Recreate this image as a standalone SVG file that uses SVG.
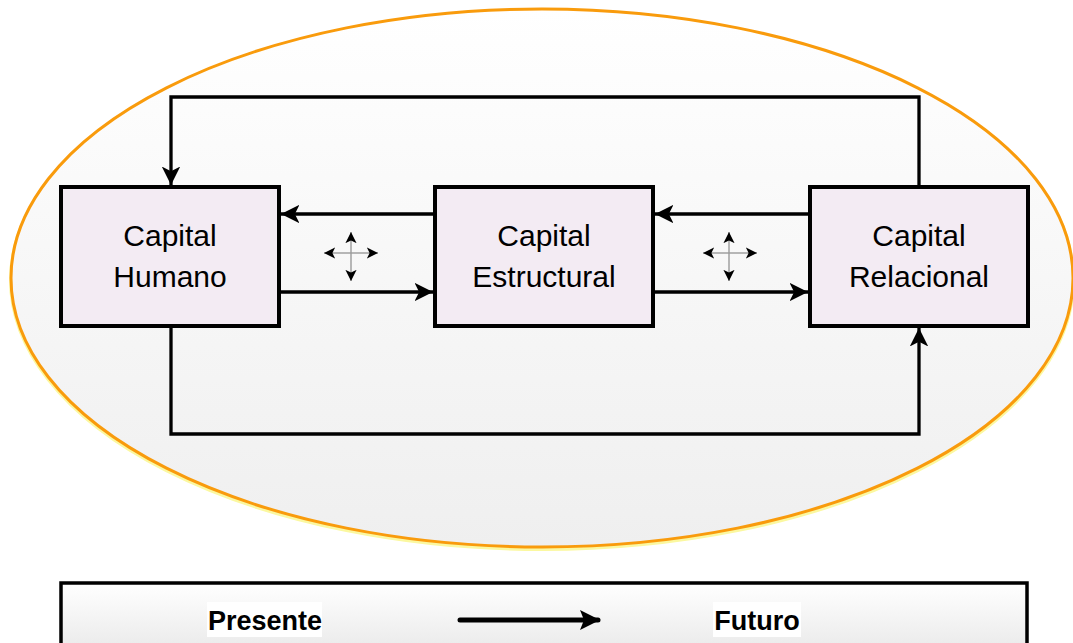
<svg xmlns="http://www.w3.org/2000/svg" width="1073" height="643" viewBox="0 0 1073 643">
  <defs>
    <linearGradient id="ovalFill" x1="0" y1="0" x2="0" y2="1">
      <stop offset="0" stop-color="#ffffff"/>
      <stop offset="1" stop-color="#efefef"/>
    </linearGradient>
    <linearGradient id="barFill" x1="0" y1="0" x2="0" y2="1">
      <stop offset="0" stop-color="#ffffff"/>
      <stop offset="1" stop-color="#e6e6e6"/>
    </linearGradient>
    <marker id="head" viewBox="0 0 10 10" refX="10" refY="5" markerWidth="5.6" markerHeight="5.6" markerUnits="strokeWidth" orient="auto">
      <path d="M0,0 L10,5 L0,10 L2.5,5 Z" fill="#000"/>
    </marker>
    <marker id="tiny" viewBox="0 0 10 10" refX="10" refY="5" markerWidth="8" markerHeight="8" markerUnits="strokeWidth" orient="auto">
      <path d="M0,0 L10,5 L0,10 L2.5,5 Z" fill="#000"/>
    </marker>
    <marker id="bigHead" viewBox="0 0 10 10" refX="9" refY="5" markerWidth="4.2" markerHeight="4" markerUnits="strokeWidth" orient="auto">
      <path d="M0,0 L10,5 L0,10 L2,5 Z" fill="#000"/>
    </marker>
  </defs>
  <style>
    .box { fill: #f3ebf3; stroke: #000; stroke-width: 4; }
    .label { font-family: "Liberation Sans", Arial, sans-serif; font-size: 30px; fill: #000; text-anchor: middle; }
    .link { fill: none; stroke: #000; stroke-width: 3.3; marker-end: url(#head); }
    .cross { fill: none; stroke: #9a9a9a; stroke-width: 1.4; marker-end: url(#tiny); }
    .time { font-family: "Liberation Sans", Arial, sans-serif; font-size: 27px; font-weight: bold; fill: #000; text-anchor: middle; }
  </style>

  <rect width="1073" height="643" fill="#ffffff"/>

  <!-- enclosing oval -->
  <g id="oval">
    <ellipse cx="542" cy="280" rx="531" ry="269" fill="none" stroke="#fbf8a0" stroke-width="4"/>
    <ellipse cx="542" cy="278" rx="531" ry="269" fill="url(#ovalFill)" stroke="#f99b0c" stroke-width="3"/>
  </g>

  <!-- connectors -->
  <g id="connectors">
    <!-- feedback loop over the top: Relacional back to Humano -->
    <polyline class="link" points="919,187 919,97 171,97 171,185"/>
    <!-- loop underneath: Humano on to Relacional -->
    <polyline class="link" points="171,326 171,434 919,434 919,328"/>
    <!-- Estructural to Humano -->
    <line class="link" x1="435" y1="214" x2="281" y2="214"/>
    <!-- Humano to Estructural -->
    <line class="link" x1="279" y1="292" x2="433" y2="292"/>
    <!-- Relacional to Estructural -->
    <line class="link" x1="810" y1="214" x2="655" y2="214"/>
    <!-- Estructural to Relacional -->
    <line class="link" x1="653" y1="292" x2="808" y2="292"/>

    <!-- four-way exchange symbols -->
    <g id="exchange-1">
      <line class="cross" x1="351" y1="253" x2="324" y2="253"/>
      <line class="cross" x1="351" y1="253" x2="378" y2="253"/>
      <line class="cross" x1="351" y1="253" x2="351" y2="232"/>
      <line class="cross" x1="351" y1="253" x2="351" y2="281"/>
    </g>
    <g id="exchange-2">
      <line class="cross" x1="729" y1="253" x2="703" y2="253"/>
      <line class="cross" x1="729" y1="253" x2="757" y2="253"/>
      <line class="cross" x1="729" y1="253" x2="729" y2="232"/>
      <line class="cross" x1="729" y1="253" x2="729" y2="281"/>
    </g>
  </g>

  <g id="capital-humano">
    <rect class="box" x="61" y="187" width="218" height="139"/>
    <text class="label" x="170" y="246">Capital</text>
    <text class="label" x="170" y="287">Humano</text>
  </g>

  <g id="capital-estructural">
    <rect class="box" x="435" y="187" width="218" height="139"/>
    <text class="label" x="544" y="246">Capital</text>
    <text class="label" x="544" y="287">Estructural</text>
  </g>

  <g id="capital-relacional">
    <rect class="box" x="810" y="187" width="218" height="139"/>
    <text class="label" x="919" y="246">Capital</text>
    <text class="label" x="919" y="287">Relacional</text>
  </g>

  <!-- timeline bar -->
  <g id="timeline">
    <rect x="61" y="583" width="966" height="80" fill="url(#barFill)" stroke="#000" stroke-width="3.5"/>
    <rect x="207" y="602" width="115" height="35" fill="#ffffff"/>
    <text class="time" x="265" y="630">Presente</text>
    <line x1="460" y1="620" x2="598" y2="620" stroke="#000" stroke-width="5" stroke-linecap="round" marker-end="url(#bigHead)"/>
    <rect x="713" y="602" width="88" height="35" fill="#ffffff"/>
    <text class="time" x="757" y="630">Futuro</text>
  </g>
</svg>
